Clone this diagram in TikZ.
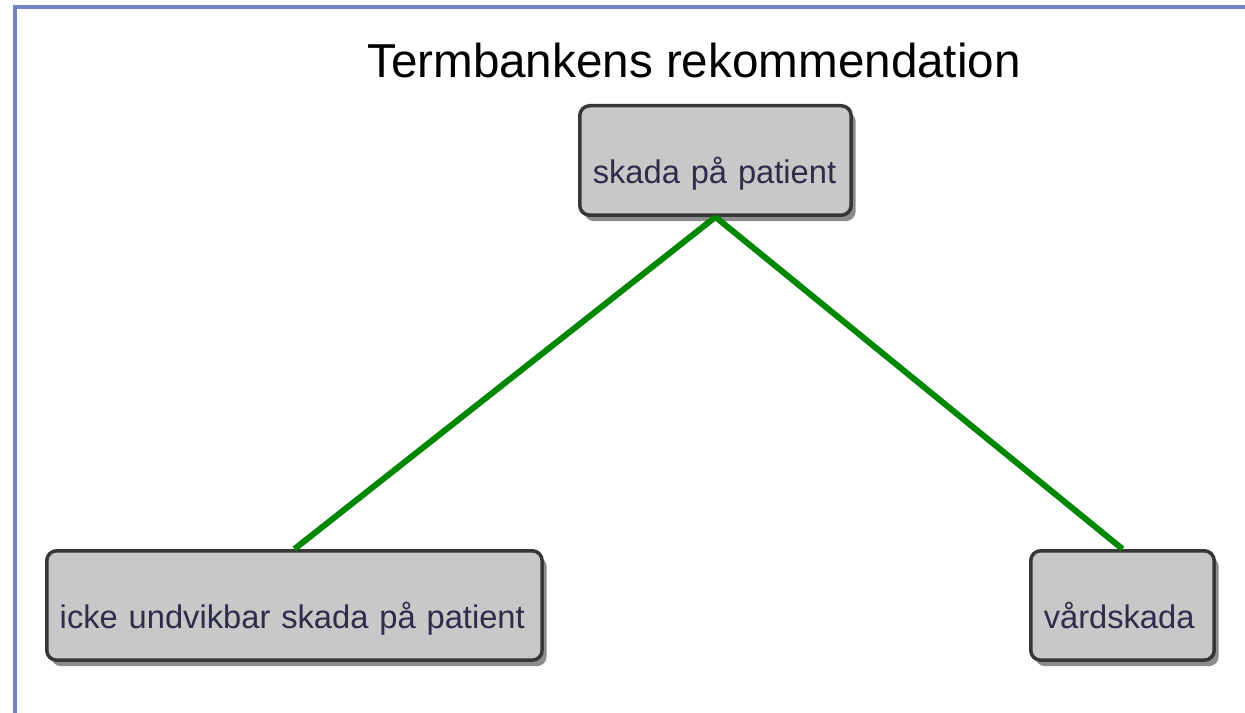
\documentclass[tikz,border=0pt]{standalone}
\usepackage{fontspec}
\setmainfont{Liberation Sans}
\usetikzlibrary{shadows}
\usetikzlibrary{positioning}

\definecolor{framecol}{RGB}{112,132,196}
\definecolor{boxfill}{RGB}{200,200,200}
\definecolor{boxline}{RGB}{55,55,55}
\definecolor{termtext}{RGB}{45,45,75}
\definecolor{linkgreen}{RGB}{0,135,0}

\begin{document}
\begin{tikzpicture}[x=0.02cm,y=-0.02cm]
          \tikzstyle{term} = [draw=boxline, fill=boxfill, line width=0.07cm, rounded corners=0.2cm,
                              text=termtext, font=\fontsize{18.6}{22}\selectfont, align=left,
                              inner xsep=0.26cm, inner ysep=0pt, text height=1.56cm, text depth=0.63cm,
                              anchor=north west,
                              drop shadow={shadow xshift=0.09cm, shadow yshift=-0.12cm, opacity=0.45, fill=black}]
          \tikzstyle{link} = [draw=linkgreen, line width=0.12cm]
          \tikzstyle{heading} = [font=\fontsize{27.1}{32}\selectfont, text=black, anchor=base]

          \useasboundingbox (0,0) rectangle (1245,713);

          % Frame
          \draw[framecol, line width=0.07cm] (15,713) -- (15,7) -- (1245,7);

          % Nodes
          \node[heading] (title) at (694,78) {Termbankens rekommendation};
          \node[term, text width=4.91cm] (skada) at (578,104) {skada på patient};
          \node[term, text width=9.39cm] (icke) at (45,549) {icke undvikbar skada på patient};
          \node[term, text width=3.15cm] (vard) at (1029,549) {vårdskada};

          % Edges
          \draw[link] (skada.south) -- (icke.north);
          \draw[link] (skada.south) -- (vard.north);

        \end{tikzpicture}
\end{document}
